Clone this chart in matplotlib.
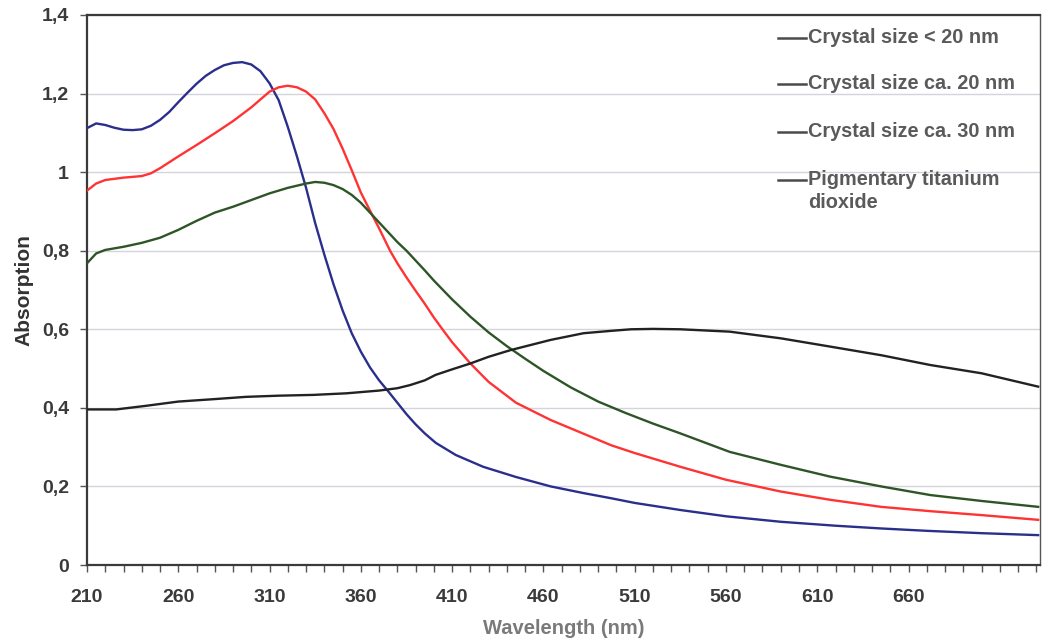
import matplotlib
matplotlib.use("Agg")
import matplotlib.pyplot as plt
from matplotlib.ticker import FixedLocator, FuncFormatter

# ---------------- data ----------------
wl_blue = [210, 215, 220, 225, 230, 235, 240, 245, 250, 255, 260, 265, 270, 275, 280,
           285, 290, 295, 300, 305, 310, 315, 320, 325, 330, 335, 340, 345, 350, 355,
           360, 365, 370, 375, 380, 385, 390, 395, 401, 412, 427, 445, 464, 482, 497,
           510, 535, 560, 590, 620, 645, 670, 700, 731]
abs_blue = [1.112, 1.124, 1.120, 1.113, 1.108, 1.107, 1.109, 1.118, 1.133, 1.153, 1.178,
            1.202, 1.225, 1.245, 1.260, 1.272, 1.278, 1.280, 1.274, 1.257, 1.226, 1.183,
            1.115, 1.040, 0.960, 0.870, 0.790, 0.715, 0.648, 0.590, 0.543, 0.503, 0.470,
            0.442, 0.413, 0.384, 0.358, 0.335, 0.311, 0.280, 0.250, 0.224, 0.200, 0.183,
            0.170, 0.158, 0.140, 0.124, 0.110, 0.100, 0.093, 0.087, 0.081, 0.076]

wl_red = [210, 215, 220, 230, 240, 245, 250, 260, 270, 280, 290, 300, 305, 310, 315, 320,
          325, 330, 335, 340, 345, 350, 355, 360, 366, 370, 376, 380, 385, 390, 395,
          400, 405, 410, 420, 430, 445, 464, 480, 497, 510, 535, 560, 590, 617, 645, 672,
          700, 731]
abs_red = [0.953, 0.971, 0.980, 0.986, 0.990, 0.997, 1.010, 1.040, 1.069, 1.099, 1.130,
           1.165, 1.185, 1.205, 1.216, 1.220, 1.216, 1.205, 1.185, 1.150, 1.110, 1.060,
           1.005, 0.948, 0.893, 0.857, 0.800, 0.768, 0.732, 0.698, 0.665, 0.630, 0.598,
           0.567, 0.513, 0.466, 0.413, 0.369, 0.338, 0.305, 0.285, 0.250, 0.217, 0.187,
           0.166, 0.148, 0.137, 0.127, 0.115]

wl_green = [210, 215, 220, 230, 240, 250, 260, 270, 280, 290, 300, 310, 320, 330, 335, 340,
            345, 350, 355, 360, 365, 370, 375, 380, 385, 390, 395, 400, 410, 420, 430, 440,
            450, 460, 475, 490, 505, 520, 535, 562, 590, 617, 645, 672, 700, 731]
abs_green = [0.768, 0.793, 0.802, 0.810, 0.820, 0.833, 0.853, 0.876, 0.897, 0.912, 0.929,
             0.946, 0.960, 0.971, 0.975, 0.973, 0.967, 0.957, 0.942, 0.922, 0.897, 0.872,
             0.847, 0.822, 0.800, 0.775, 0.750, 0.724, 0.676, 0.632, 0.592, 0.557, 0.525,
             0.494, 0.452, 0.416, 0.387, 0.360, 0.335, 0.288, 0.255, 0.225, 0.200, 0.178,
             0.163, 0.148]

wl_black = [210, 226, 242, 260, 279, 297, 315, 334, 352, 370, 380, 387, 395, 401, 410, 420,
            430, 442, 464, 482, 497, 508, 520, 535, 562, 590, 617, 645, 672, 700, 731]
abs_black = [0.396, 0.396, 0.405, 0.416, 0.422, 0.428, 0.431, 0.433, 0.437, 0.444, 0.450,
             0.458, 0.470, 0.484, 0.498, 0.513, 0.530, 0.547, 0.573, 0.590, 0.596, 0.600,
             0.601, 0.600, 0.594, 0.577, 0.556, 0.534, 0.509, 0.488, 0.454]

labels = ["Crystal size < 20 nm", "Crystal size ca. 20 nm",
          "Crystal size ca. 30 nm", "Pigmentary titanium\ndioxide"]
x_tick_labels = [210, 260, 310, 360, 410, 460, 510, 560, 610, 660]
y_ticks = [0, 0.2, 0.4, 0.6, 0.8, 1.0, 1.2, 1.4]

# ---------------- style ----------------
plt.rcParams['font.family'] = ['Liberation Sans', 'DejaVu Sans']
plt.rcParams['font.weight'] = 'bold'

fig = plt.figure(figsize=(10.42, 6.43), dpi=100)
ax = fig.add_axes([87 / 1042, 1 - 565 / 643, 953 / 1042, 550 / 643])

ax.plot(wl_blue, abs_blue, color="#2b2f8c", lw=1.7, zorder=3)
ax.plot(wl_red, abs_red, color="#ff3333", lw=1.7, zorder=3)
ax.plot(wl_green, abs_green, color="#2e5527", lw=1.7, zorder=3)
ax.plot(wl_black, abs_black, color="#222222", lw=1.7, zorder=3)

ax.set_xlim(210, 732)
ax.set_ylim(0, 1.4)

# grid
ax.set_yticks(y_ticks)
ax.yaxis.grid(True, color="#d4d4dc", lw=1.0)
ax.set_axisbelow(True)
ax.yaxis.set_major_formatter(FuncFormatter(
    lambda v, p: ("%g" % round(v, 1)).replace(".", ",")))

# x ticks every 10 nm, labels every 50
minor = list(range(210, 731, 10))
ax.xaxis.set_major_locator(FixedLocator(minor))
ax.xaxis.set_major_formatter(FuncFormatter(
    lambda v, p: str(int(round(v))) if int(round(v)) in x_tick_labels else ""))

ax.tick_params(axis="x", direction="out", length=5, width=1, color="#555555",
               labelsize=14, labelcolor="#3a3a3a", pad=12)
ax.tick_params(axis="y", direction="out", length=5, width=1, color="#555555",
               labelsize=14, labelcolor="#3a3a3a", pad=8)

for s in ["left", "bottom", "top"]:
    ax.spines[s].set_color("#3a3a3a")
    ax.spines[s].set_linewidth(1.6)
ax.spines["right"].set_color("#555555")
ax.spines["right"].set_linewidth(1.0)

ax.set_xlabel("Wavelength (nm)", fontsize=14.5, color="#7a7a7a", fontweight="bold",
              labelpad=10)
ax.set_ylabel("Absorption", fontsize=15, color="#333333", fontweight="bold",
              labelpad=6)

# legend drawn manually (grey handles, first-line aligned)
leg_y = [0.958, 0.8745, 0.787, 0.700]
for yy, lab in zip(leg_y, labels):
    ax.plot([0.725, 0.7545], [yy, yy], transform=ax.transAxes, color="#4a4a4a",
            lw=1.8, clip_on=False, zorder=5)
    ax.text(0.7566, yy + 0.019, lab, transform=ax.transAxes, fontsize=14.3,
            color="#5a5a5a", fontweight="bold", va="top", ha="left",
            linespacing=1.3, zorder=5)

fig.savefig("out.png", dpi=100)
